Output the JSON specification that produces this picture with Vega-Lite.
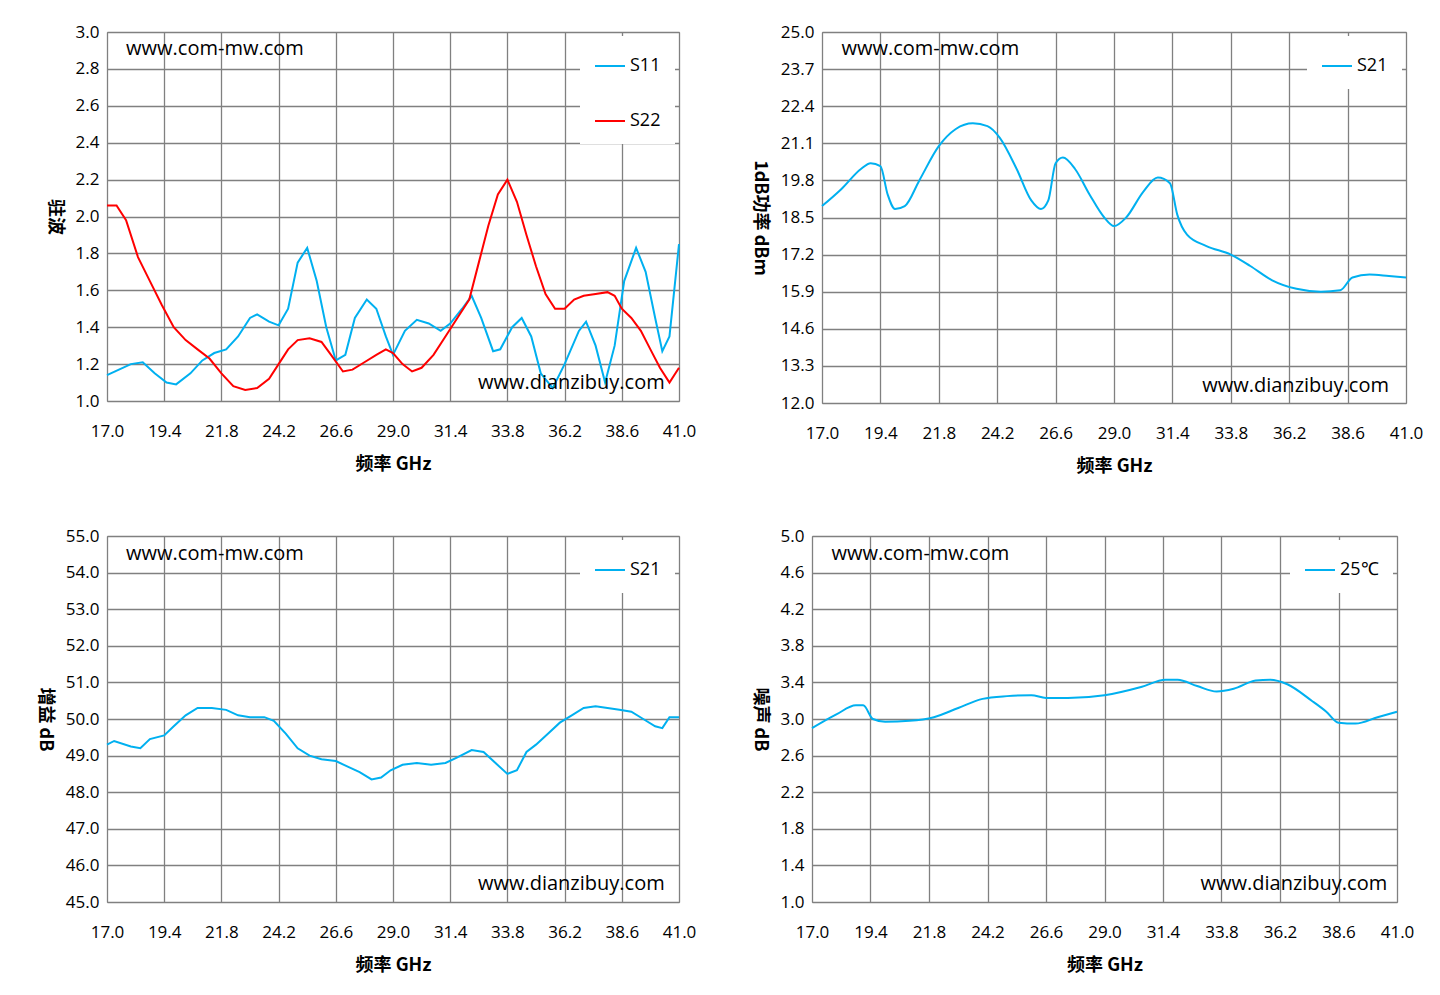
{
"$schema":"https://vega.github.io/schema/vega-lite/v6.json",
"background":"white",
"padding":{"left":34,"top":22,"right":10,"bottom":5},
"spacing":50,
"config":{"font":"Liberation Sans","view":{"stroke":"#888"},
"axis":{"labelFont":"Open Sans","labelFontSize":17,"labelColor":"#000","titleFont":"Noto Sans CJK SC","titleFontSize":18,"titleFontWeight":"bold","titleColor":"#000","gridColor":"#808080","gridWidth":1.3,"domain":false,"ticks":false,"labelOverlap":false,"labelFlush":false},
"axisX":{"labelPadding":22,"titlePadding":16},
"axisY":{"labelPadding":8,"titlePadding":30},
"legend":{"orient":"top-right","fillColor":"white","title":null,"labelFont":"Open Sans","labelFontSize":18,"labelColor":"#000","symbolType":"stroke","symbolSize":900,"symbolStrokeWidth":2,"padding":14,"rowPadding":30,"offset":4}},
"datasets":{
"vswr":[
{"x":17.0,"y":1.14,"s":"S11"},{"x":17.5,"y":1.17,"s":"S11"},{"x":18.0,"y":1.2,"s":"S11"},{"x":18.5,"y":1.21,"s":"S11"},{"x":19.0,"y":1.15,"s":"S11"},{"x":19.5,"y":1.1,"s":"S11"},{"x":19.9,"y":1.09,"s":"S11"},{"x":20.5,"y":1.15,"s":"S11"},{"x":21.0,"y":1.22,"s":"S11"},{"x":21.5,"y":1.26,"s":"S11"},{"x":22.0,"y":1.28,"s":"S11"},{"x":22.5,"y":1.35,"s":"S11"},{"x":23.0,"y":1.45,"s":"S11"},{"x":23.3,"y":1.47,"s":"S11"},{"x":23.8,"y":1.43,"s":"S11"},{"x":24.2,"y":1.41,"s":"S11"},{"x":24.6,"y":1.5,"s":"S11"},{"x":25.0,"y":1.75,"s":"S11"},{"x":25.4,"y":1.83,"s":"S11"},{"x":25.8,"y":1.65,"s":"S11"},{"x":26.2,"y":1.4,"s":"S11"},{"x":26.6,"y":1.22,"s":"S11"},{"x":27.0,"y":1.25,"s":"S11"},{"x":27.4,"y":1.45,"s":"S11"},{"x":27.9,"y":1.55,"s":"S11"},{"x":28.3,"y":1.5,"s":"S11"},{"x":28.7,"y":1.35,"s":"S11"},{"x":29.0,"y":1.25,"s":"S11"},{"x":29.5,"y":1.38,"s":"S11"},{"x":30.0,"y":1.44,"s":"S11"},{"x":30.5,"y":1.42,"s":"S11"},{"x":31.0,"y":1.38,"s":"S11"},{"x":31.4,"y":1.42,"s":"S11"},{"x":31.9,"y":1.5,"s":"S11"},{"x":32.3,"y":1.57,"s":"S11"},{"x":32.7,"y":1.45,"s":"S11"},{"x":33.2,"y":1.27,"s":"S11"},{"x":33.5,"y":1.28,"s":"S11"},{"x":34.0,"y":1.4,"s":"S11"},{"x":34.4,"y":1.45,"s":"S11"},{"x":34.8,"y":1.35,"s":"S11"},{"x":35.2,"y":1.15,"s":"S11"},{"x":35.7,"y":1.07,"s":"S11"},{"x":36.2,"y":1.2,"s":"S11"},{"x":36.8,"y":1.38,"s":"S11"},{"x":37.1,"y":1.43,"s":"S11"},{"x":37.5,"y":1.3,"s":"S11"},{"x":37.9,"y":1.1,"s":"S11"},{"x":38.3,"y":1.3,"s":"S11"},{"x":38.7,"y":1.65,"s":"S11"},{"x":39.2,"y":1.83,"s":"S11"},{"x":39.6,"y":1.7,"s":"S11"},{"x":40.0,"y":1.45,"s":"S11"},{"x":40.3,"y":1.27,"s":"S11"},{"x":40.6,"y":1.35,"s":"S11"},{"x":41.0,"y":1.85,"s":"S11"},
{"x":17.0,"y":2.06,"s":"S22"},{"x":17.4,"y":2.06,"s":"S22"},{"x":17.8,"y":1.98,"s":"S22"},{"x":18.3,"y":1.78,"s":"S22"},{"x":18.8,"y":1.65,"s":"S22"},{"x":19.3,"y":1.52,"s":"S22"},{"x":19.8,"y":1.4,"s":"S22"},{"x":20.3,"y":1.33,"s":"S22"},{"x":20.8,"y":1.28,"s":"S22"},{"x":21.3,"y":1.23,"s":"S22"},{"x":21.8,"y":1.15,"s":"S22"},{"x":22.3,"y":1.08,"s":"S22"},{"x":22.8,"y":1.06,"s":"S22"},{"x":23.3,"y":1.07,"s":"S22"},{"x":23.8,"y":1.12,"s":"S22"},{"x":24.2,"y":1.2,"s":"S22"},{"x":24.6,"y":1.28,"s":"S22"},{"x":25.0,"y":1.33,"s":"S22"},{"x":25.5,"y":1.34,"s":"S22"},{"x":26.0,"y":1.32,"s":"S22"},{"x":26.4,"y":1.25,"s":"S22"},{"x":26.9,"y":1.16,"s":"S22"},{"x":27.3,"y":1.17,"s":"S22"},{"x":27.8,"y":1.21,"s":"S22"},{"x":28.3,"y":1.25,"s":"S22"},{"x":28.7,"y":1.28,"s":"S22"},{"x":29.0,"y":1.26,"s":"S22"},{"x":29.4,"y":1.2,"s":"S22"},{"x":29.8,"y":1.16,"s":"S22"},{"x":30.2,"y":1.18,"s":"S22"},{"x":30.7,"y":1.25,"s":"S22"},{"x":31.2,"y":1.35,"s":"S22"},{"x":31.7,"y":1.45,"s":"S22"},{"x":32.2,"y":1.55,"s":"S22"},{"x":32.6,"y":1.75,"s":"S22"},{"x":33.0,"y":1.95,"s":"S22"},{"x":33.4,"y":2.12,"s":"S22"},{"x":33.8,"y":2.2,"s":"S22"},{"x":34.2,"y":2.08,"s":"S22"},{"x":34.6,"y":1.9,"s":"S22"},{"x":35.0,"y":1.73,"s":"S22"},{"x":35.4,"y":1.58,"s":"S22"},{"x":35.8,"y":1.5,"s":"S22"},{"x":36.2,"y":1.5,"s":"S22"},{"x":36.6,"y":1.55,"s":"S22"},{"x":37.0,"y":1.57,"s":"S22"},{"x":37.5,"y":1.58,"s":"S22"},{"x":38.0,"y":1.59,"s":"S22"},{"x":38.3,"y":1.57,"s":"S22"},{"x":38.6,"y":1.5,"s":"S22"},{"x":39.0,"y":1.45,"s":"S22"},{"x":39.4,"y":1.38,"s":"S22"},{"x":39.8,"y":1.28,"s":"S22"},{"x":40.2,"y":1.18,"s":"S22"},{"x":40.6,"y":1.1,"s":"S22"},{"x":41.0,"y":1.18,"s":"S22"}],
"p1db":[
{"x":17,"y":18.9,"s":"S21"},{"x":17.8,"y":19.5,"s":"S21"},{"x":18.6,"y":20.2,"s":"S21"},{"x":19.0,"y":20.4,"s":"S21"},{"x":19.4,"y":20.3,"s":"S21"},{"x":19.7,"y":19.3,"s":"S21"},{"x":20.0,"y":18.8,"s":"S21"},{"x":20.4,"y":18.9,"s":"S21"},{"x":21.0,"y":19.8,"s":"S21"},{"x":21.8,"y":21.0,"s":"S21"},{"x":22.5,"y":21.6,"s":"S21"},{"x":23.2,"y":21.8,"s":"S21"},{"x":23.8,"y":21.7,"s":"S21"},{"x":24.3,"y":21.3,"s":"S21"},{"x":25.0,"y":20.2,"s":"S21"},{"x":25.6,"y":19.1,"s":"S21"},{"x":26.0,"y":18.8,"s":"S21"},{"x":26.3,"y":19.1,"s":"S21"},{"x":26.6,"y":20.4,"s":"S21"},{"x":26.9,"y":20.6,"s":"S21"},{"x":27.4,"y":20.2,"s":"S21"},{"x":28.0,"y":19.3,"s":"S21"},{"x":28.6,"y":18.5,"s":"S21"},{"x":29.0,"y":18.2,"s":"S21"},{"x":29.5,"y":18.5,"s":"S21"},{"x":30.2,"y":19.4,"s":"S21"},{"x":30.8,"y":19.9,"s":"S21"},{"x":31.3,"y":19.7,"s":"S21"},{"x":31.6,"y":18.6,"s":"S21"},{"x":32.0,"y":17.9,"s":"S21"},{"x":32.8,"y":17.5,"s":"S21"},{"x":33.8,"y":17.2,"s":"S21"},{"x":34.6,"y":16.8,"s":"S21"},{"x":35.5,"y":16.3,"s":"S21"},{"x":36.5,"y":16.0,"s":"S21"},{"x":37.5,"y":15.9,"s":"S21"},{"x":38.3,"y":15.95,"s":"S21"},{"x":38.8,"y":16.4,"s":"S21"},{"x":39.5,"y":16.5,"s":"S21"},{"x":40.3,"y":16.45,"s":"S21"},{"x":41,"y":16.4,"s":"S21"}],
"gain":[
{"x":17,"y":49.3,"s":"S21"},{"x":17.3,"y":49.4,"s":"S21"},{"x":18.0,"y":49.25,"s":"S21"},{"x":18.4,"y":49.2,"s":"S21"},{"x":18.8,"y":49.45,"s":"S21"},{"x":19.4,"y":49.55,"s":"S21"},{"x":19.8,"y":49.8,"s":"S21"},{"x":20.3,"y":50.1,"s":"S21"},{"x":20.8,"y":50.3,"s":"S21"},{"x":21.4,"y":50.3,"s":"S21"},{"x":22.0,"y":50.25,"s":"S21"},{"x":22.5,"y":50.1,"s":"S21"},{"x":23.0,"y":50.05,"s":"S21"},{"x":23.6,"y":50.05,"s":"S21"},{"x":24.0,"y":49.95,"s":"S21"},{"x":24.5,"y":49.6,"s":"S21"},{"x":25.0,"y":49.2,"s":"S21"},{"x":25.5,"y":49.0,"s":"S21"},{"x":26.0,"y":48.9,"s":"S21"},{"x":26.6,"y":48.85,"s":"S21"},{"x":27.1,"y":48.7,"s":"S21"},{"x":27.6,"y":48.55,"s":"S21"},{"x":28.1,"y":48.35,"s":"S21"},{"x":28.5,"y":48.4,"s":"S21"},{"x":28.9,"y":48.6,"s":"S21"},{"x":29.4,"y":48.75,"s":"S21"},{"x":30.0,"y":48.8,"s":"S21"},{"x":30.6,"y":48.75,"s":"S21"},{"x":31.2,"y":48.8,"s":"S21"},{"x":31.7,"y":48.95,"s":"S21"},{"x":32.3,"y":49.15,"s":"S21"},{"x":32.8,"y":49.1,"s":"S21"},{"x":33.3,"y":48.8,"s":"S21"},{"x":33.8,"y":48.5,"s":"S21"},{"x":34.2,"y":48.6,"s":"S21"},{"x":34.6,"y":49.1,"s":"S21"},{"x":35.0,"y":49.3,"s":"S21"},{"x":35.5,"y":49.6,"s":"S21"},{"x":36.0,"y":49.9,"s":"S21"},{"x":36.5,"y":50.1,"s":"S21"},{"x":37.0,"y":50.3,"s":"S21"},{"x":37.5,"y":50.35,"s":"S21"},{"x":38.0,"y":50.3,"s":"S21"},{"x":38.5,"y":50.25,"s":"S21"},{"x":39.0,"y":50.2,"s":"S21"},{"x":39.5,"y":50.0,"s":"S21"},{"x":40.0,"y":49.8,"s":"S21"},{"x":40.3,"y":49.75,"s":"S21"},{"x":40.6,"y":50.05,"s":"S21"},{"x":41,"y":50.05,"s":"S21"}],
"noise":[
{"x":17,"y":2.9,"s":"25℃"},{"x":18,"y":3.05,"s":"25℃"},{"x":18.8,"y":3.15,"s":"25℃"},{"x":19.1,"y":3.15,"s":"25℃"},{"x":19.5,"y":3.0,"s":"25℃"},{"x":20.0,"y":2.97,"s":"25℃"},{"x":21.0,"y":2.98,"s":"25℃"},{"x":22.0,"y":3.02,"s":"25℃"},{"x":23.0,"y":3.12,"s":"25℃"},{"x":24.0,"y":3.22,"s":"25℃"},{"x":25.0,"y":3.25,"s":"25℃"},{"x":26.0,"y":3.26,"s":"25℃"},{"x":26.6,"y":3.23,"s":"25℃"},{"x":27.5,"y":3.23,"s":"25℃"},{"x":29.0,"y":3.26,"s":"25℃"},{"x":30.5,"y":3.35,"s":"25℃"},{"x":31.5,"y":3.43,"s":"25℃"},{"x":32.0,"y":3.43,"s":"25℃"},{"x":32.8,"y":3.36,"s":"25℃"},{"x":33.6,"y":3.3,"s":"25℃"},{"x":34.3,"y":3.33,"s":"25℃"},{"x":35.2,"y":3.42,"s":"25℃"},{"x":35.8,"y":3.43,"s":"25℃"},{"x":36.5,"y":3.38,"s":"25℃"},{"x":37.5,"y":3.2,"s":"25℃"},{"x":38.1,"y":3.08,"s":"25℃"},{"x":38.6,"y":2.96,"s":"25℃"},{"x":39.3,"y":2.95,"s":"25℃"},{"x":40.2,"y":3.02,"s":"25℃"},{"x":41,"y":3.08,"s":"25℃"}]
},
"vconcat":[
{"spacing":52,"resolve":{"scale":{"color":"independent","x":"independent","y":"independent"},"legend":{"color":"independent"}},"hconcat":[
{"width":572,"height":369,
"encoding":{"x":{"field":"x","type":"quantitative","scale":{"domain":[17,41],"nice":false},"axis":{"values":[17,19.4,21.8,24.2,26.6,29,31.4,33.8,36.2,38.6,41],"format":".1f","title":"频率 GHz"}},
"y":{"field":"y","type":"quantitative","scale":{"domain":[1,3],"nice":false},"axis":{"values":[1,1.2,1.4,1.6,1.8,2,2.2,2.4,2.6,2.8,3],"format":".1f","title":"驻波","titleAngle":90}}},
"layer":[
{"data":{"name":"vswr"},"mark":{"type":"line","strokeWidth":2},"encoding":{"color":{"field":"s","type":"nominal","scale":{"domain":["S11","S22"],"range":["#00B0F0","#FF0000"]}}}},
{"data":{"values":[{"x":17.8,"y":2.91,"t":"www.com-mw.com"}]},"mark":{"type":"text","align":"left","fontSize":20,"font":"Open Sans"},"encoding":{"text":{"field":"t"}}},
{"data":{"values":[{"x":40.4,"y":1.1,"t":"www.dianzibuy.com"}]},"mark":{"type":"text","align":"right","fontSize":20,"font":"Open Sans"},"encoding":{"text":{"field":"t"}}}
]},
{"width":584,"height":371,
"encoding":{"x":{"field":"x","type":"quantitative","scale":{"domain":[17,41],"nice":false},"axis":{"values":[17,19.4,21.8,24.2,26.6,29,31.4,33.8,36.2,38.6,41],"format":".1f","title":"频率 GHz"}},
"y":{"field":"y","type":"quantitative","scale":{"domain":[12,25],"nice":false},"axis":{"values":[12,13.3,14.6,15.9,17.2,18.5,19.8,21.1,22.4,23.7,25],"format":".1f","title":"1dB功率 dBm","titleAngle":90}}},
"layer":[
{"data":{"name":"p1db"},"mark":{"type":"line","strokeWidth":2,"interpolate":"monotone"},"encoding":{"color":{"field":"s","type":"nominal","scale":{"domain":["S21"],"range":["#00B0F0"]}}}},
{"data":{"values":[{"x":17.8,"y":24.4,"t":"www.com-mw.com"}]},"mark":{"type":"text","align":"left","fontSize":20,"font":"Open Sans"},"encoding":{"text":{"field":"t"}}},
{"data":{"values":[{"x":40.3,"y":12.6,"t":"www.dianzibuy.com"}]},"mark":{"type":"text","align":"right","fontSize":20,"font":"Open Sans"},"encoding":{"text":{"field":"t"}}}
]}
]},
{"spacing":52,"resolve":{"scale":{"color":"independent","x":"independent","y":"independent"},"legend":{"color":"independent"}},"hconcat":[
{"width":572,"height":366,
"encoding":{"x":{"field":"x","type":"quantitative","scale":{"domain":[17,41],"nice":false},"axis":{"values":[17,19.4,21.8,24.2,26.6,29,31.4,33.8,36.2,38.6,41],"format":".1f","title":"频率 GHz"}},
"y":{"field":"y","type":"quantitative","scale":{"domain":[45,55],"nice":false},"axis":{"values":[45,46,47,48,49,50,51,52,53,54,55],"format":".1f","title":"增益 dB","titleAngle":90}}},
"layer":[
{"data":{"name":"gain"},"mark":{"type":"line","strokeWidth":2},"encoding":{"color":{"field":"s","type":"nominal","scale":{"domain":["S21"],"range":["#00B0F0"]}}}},
{"data":{"values":[{"x":17.8,"y":54.5,"t":"www.com-mw.com"}]},"mark":{"type":"text","align":"left","fontSize":20,"font":"Open Sans"},"encoding":{"text":{"field":"t"}}},
{"data":{"values":[{"x":40.4,"y":45.5,"t":"www.dianzibuy.com"}]},"mark":{"type":"text","align":"right","fontSize":20,"font":"Open Sans"},"encoding":{"text":{"field":"t"}}}
]},
{"width":585,"height":366,
"encoding":{"x":{"field":"x","type":"quantitative","scale":{"domain":[17,41],"nice":false},"axis":{"values":[17,19.4,21.8,24.2,26.6,29,31.4,33.8,36.2,38.6,41],"format":".1f","title":"频率 GHz"}},
"y":{"field":"y","type":"quantitative","scale":{"domain":[1,5],"nice":false},"axis":{"values":[1,1.4,1.8,2.2,2.6,3,3.4,3.8,4.2,4.6,5],"format":".1f","title":"噪声 dB","titleAngle":90}}},
"layer":[
{"data":{"name":"noise"},"mark":{"type":"line","strokeWidth":2,"interpolate":"monotone"},"encoding":{"color":{"field":"s","type":"nominal","scale":{"domain":["25℃"],"range":["#00B0F0"]}}}},
{"data":{"values":[{"x":17.8,"y":4.8,"t":"www.com-mw.com"}]},"mark":{"type":"text","align":"left","fontSize":20,"font":"Open Sans"},"encoding":{"text":{"field":"t"}}},
{"data":{"values":[{"x":40.6,"y":1.2,"t":"www.dianzibuy.com"}]},"mark":{"type":"text","align":"right","fontSize":20,"font":"Open Sans"},"encoding":{"text":{"field":"t"}}}
]}
]}
]
}
